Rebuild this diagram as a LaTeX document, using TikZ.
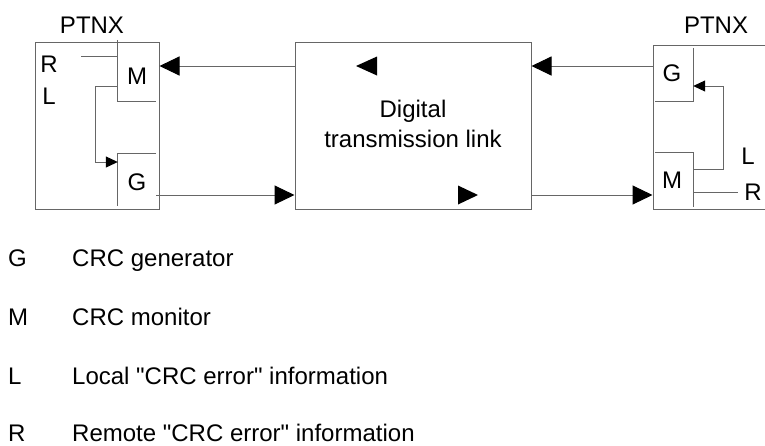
\documentclass[tikz,border=0pt]{standalone}
\usepackage{fontspec}
\setmainfont{Liberation Sans}
\usetikzlibrary{arrows.meta}

\tikzset{
    wire/.style={draw=black!60, line width=1pt},
    box/.style={wire, rectangle, inner sep=0pt},
    subbox/.style={rectangle, inner sep=0pt},
    bigarrow/.style={wire, -{Triangle[length=20pt,width=19pt,black]}},
    smallarrow/.style={wire, -{Triangle[length=12pt,width=11pt,black]}},
    txt/.style={font=\fontsize{24}{30}\selectfont, inner sep=0pt},
}

\begin{document}
\begin{tikzpicture}[x=1pt,y=-1pt]
    \useasboundingbox (0,0) rectangle (765,445);

    % stations and link
    \node (ptnxL) [box, minimum width=124pt, minimum height=167pt] at (97,125.5) {};
    \node (link)  [box, minimum width=236pt, minimum height=167pt] at (413,125.5) {};
    \node (ptnxR) [box, minimum width=140pt, minimum height=164pt] at (723,127) {};
    \node (ptnxLtxt) [txt] at (92,25) {PTNX};
    \node (ptnxRtxt) [txt] at (716,25) {PTNX};
    \node (linktxt) [txt, align=center] at (413,124) {Digital\\transmission link};

    % monitor / generator blocks
    \node (msubL) [subbox, minimum width=38pt, minimum height=61pt] at (137,70.5) {};
    \node (gsubL) [subbox, minimum width=38pt, minimum height=52pt] at (137,180) {};
    \node (gsubR) [subbox, minimum width=38pt, minimum height=53pt] at (674,74.5) {};
    \node (msubR) [subbox, minimum width=38pt, minimum height=54pt] at (674,180) {};
    \node (mtxtL) [txt] at (137,76) {M};
    \node (gtxtL) [txt] at (137,182) {G};
    \node (gtxtR) [txt] at (672,73) {G};
    \node (mtxtR) [txt] at (672,180) {M};
    \draw[wire] (msubL.north west) -- (msubL.south west) -- (msubL.south east);
    \draw[wire] (gsubL.north east) -- (gsubL.north west) -- (gsubL.south west);
    \draw[wire] (gsubR.north east) -- (gsubR.south east) -- (gsubR.south west);
    \draw[wire] (msubR.north west) -- (msubR.north east) -- (msubR.south east);

    % error information
    \node (rtxtL) [txt] at (49,64) {R};
    \node (ltxtL) [txt] at (49,96) {L};
    \node (ltxtR) [txt] at (748,156) {L};
    \node (rtxtR) [txt] at (753,192) {R};
    \coordinate (rendL) at (81,56);
    \coordinate (rendR) at (738,192);
    \draw[wire] (rendL) -- (msubL.west |- rendL);
    \draw[wire] (msubR.east |- rendR) -- (rendR);
    \draw[smallarrow] (msubL.west |- 0,86) -- ++(-22,0) |- (gsubL.west |- 0,162);
    \draw[smallarrow] (msubR.east |- 0,169) -- ++(30,0) |- (gsubR.east |- 0,86);

    % transmission
    \draw[bigarrow] (link.west |- 0,66) -- (ptnxL.east |- 0,66);
    \draw[bigarrow] (gsubL.east |- 0,195) -- (link.west |- 0,195);
    \draw[bigarrow] (ptnxR.west |- 0,66) -- (link.east |- 0,66);
    \draw[bigarrow] (link.east |- 0,195) -- (ptnxR.west |- 0,195);
    \fill (356,66) -- (377,56.5) -- (377,75.5) -- cycle;
    \fill (478,195) -- (458,185.5) -- (458,204.5) -- cycle;

    % legend
    \node (keyG) [txt, anchor=base west] at (8,266) {G};
    \node (keyM) [txt, anchor=base west] at (8,325) {M};
    \node (keyL) [txt, anchor=base west] at (8,384) {L};
    \node (keyR) [txt, anchor=base west] at (8,441) {R};
    \node (keyGtxt) [txt, anchor=base west] at (72,266) {CRC generator};
    \node (keyMtxt) [txt, anchor=base west] at (72,325) {CRC monitor};
    \node (keyLtxt) [txt, anchor=base west] at (72,384) {Local \textquotedbl CRC error\textquotedbl{} information};
    \node (keyRtxt) [txt, anchor=base west] at (72,441) {Remote \textquotedbl CRC error\textquotedbl{} information};
\end{tikzpicture}
\end{document}
